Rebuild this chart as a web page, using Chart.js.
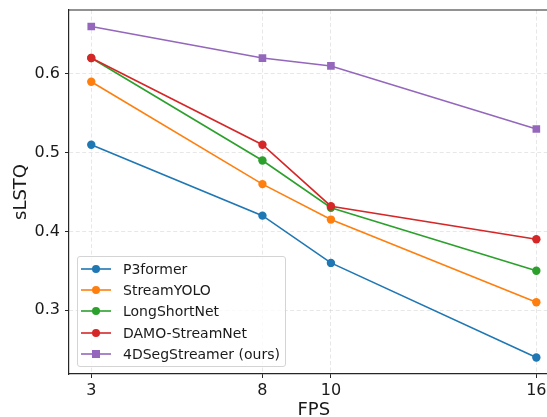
<!DOCTYPE html>
<html>
<head>
<meta charset="utf-8">
<script src="https://cdn.jsdelivr.net/npm/chart.js@4"></script>
<style>
  html, body { margin: 0; padding: 0; background: #fff; overflow: hidden; width: 547px; height: 417px; }
  #wrap { position: relative; width: 547px; height: 417px; overflow: hidden; }
  #c { position: absolute; left: 0; top: 0; }
  #legend {
    position: absolute; left: 77px; top: 256px; width: 207px; height: 109px;
    border: 1px solid #d4d4d4; border-radius: 3px; background: rgba(255,255,255,0.8);
    font-family: 'DejaVu Sans', sans-serif; font-size: 14px; color: #1a1a1a;
  }
  .row { position: absolute; left: 0; height: 20px; width: 100%; }
  .row svg { position: absolute; left: 3px; top: 5px; }
  .row span { position: absolute; left: 45px; top: 1px; line-height: 18px; white-space: nowrap; }
</style>
</head>
<body>
<div id="wrap">
  <canvas id="c" width="564" height="417" style="width:564px;height:417px"></canvas>
  <div id="legend"></div>
</div>
<script>
const fps = [3, 8, 10, 16];
const xTicks = [3, 8, 10, 16];
const yTicks = [0.3, 0.4, 0.5, 0.6];
const seriesNames = ['P3former', 'StreamYOLO', 'LongShortNet', 'DAMO-StreamNet', '4DSegStreamer (ours)'];
const p3former = [0.51, 0.42, 0.36, 0.24];
const streamYOLO = [0.59, 0.46, 0.415, 0.31];
const longShortNet = [0.62, 0.49, 0.43, 0.35];
const damoStreamNet = [0.62, 0.51, 0.432, 0.39];
const segStreamer = [0.66, 0.62, 0.61, 0.53];

const seriesValues = [p3former, streamYOLO, longShortNet, damoStreamNet, segStreamer];
const colors = ['#1f77b4', '#ff7f0e', '#2ca02c', '#d62728', '#9467bd'];
const markers = ['circle', 'circle', 'circle', 'circle', 'rect'];

const datasets = seriesNames.map((name, i) => ({
  label: name,
  data: fps.map((x, j) => ({ x: x, y: seriesValues[i][j] })),
  borderColor: colors[i],
  backgroundColor: colors[i],
  borderWidth: 1.6,
  pointStyle: markers[i],
  pointRadius: markers[i] === 'rect' ? 5.4 : 4.2,
  pointBorderWidth: 0,
  pointHoverRadius: 5,
  tension: 0,
  fill: false,
  order: seriesNames.length - i
}));

const FONT = "'DejaVu Sans', sans-serif";
const spineColor = '#262626';

const framePlugin = {
  id: 'frame',
  afterDatasetsDraw(chart) {
    const a = chart.chartArea, ctx = chart.ctx;
    ctx.save();
    ctx.strokeStyle = spineColor;
    ctx.lineWidth = 1.2;
    ctx.beginPath();
    ctx.moveTo(a.left, a.top);
    ctx.lineTo(a.right, a.top);
    ctx.lineTo(a.right, a.bottom);
    ctx.stroke();
    ctx.restore();
  }
};

new Chart(document.getElementById('c'), {
  type: 'line',
  data: { datasets },
  options: {
    responsive: false,
    animation: false,
    devicePixelRatio: 1,
    layout: { padding: { top: 10, right: 0, left: 0, bottom: 0 } },
    plugins: { legend: { display: false }, tooltip: { enabled: false } },
    scales: {
      x: {
        type: 'linear',
        min: 2.35, max: 16.65,
        afterBuildTicks: s => { s.ticks = xTicks.map(v => ({ value: v })); },
        afterFit: s => { s.height = 43; s.paddingLeft = 0; s.paddingRight = 0; },
        ticks: { font: { family: FONT, size: 16 }, color: '#1a1a1a', padding: 3, maxRotation: 0, autoSkip: false },
        grid: { color: 'rgba(200,200,200,0.55)', lineWidth: 0.8, tickColor: spineColor, tickLength: 4, tickWidth: 1 },
        border: { color: spineColor, width: 1.2, dash: [4, 2.5] },
        title: { display: true, text: 'FPS', font: { family: FONT, size: 18, lineHeight: 0.72 }, color: '#1a1a1a', padding: 0 }
      },
      y: {
        type: 'linear',
        min: 0.219, max: 0.681,
        afterBuildTicks: s => { s.ticks = yTicks.map(v => ({ value: v })); },
        afterFit: s => { s.width = 69; s.paddingTop = 0; s.paddingBottom = 0; },
        ticks: { font: { family: FONT, size: 16 }, color: '#1a1a1a', padding: 5, callback: v => v.toFixed(1) },
        grid: { color: 'rgba(200,200,200,0.55)', lineWidth: 0.8, tickColor: spineColor, tickLength: 4, tickWidth: 1 },
        border: { color: spineColor, width: 1.2, dash: [4, 2.5] },
        title: { display: true, text: 'sLSTQ', font: { family: FONT, size: 18, lineHeight: 1.2 }, color: '#1a1a1a', padding: { top: 11, bottom: 0 } }
      }
    }
  },
  plugins: [framePlugin]
});

// HTML legend built from the series
const legend = document.getElementById('legend');
seriesNames.forEach((name, i) => {
  const row = document.createElement('div');
  row.className = 'row';
  row.style.top = (2 + i * 21.2) + 'px';
  const m = markers[i] === 'rect'
    ? `<rect x="11" y="1" width="8" height="8" fill="${colors[i]}"/>`
    : `<circle cx="15" cy="5" r="4" fill="${colors[i]}"/>`;
  row.innerHTML = `<svg width="30" height="10"><line x1="0" y1="5" x2="30" y2="5" stroke="${colors[i]}" stroke-width="1.6"/>${m}</svg><span>${name}</span>`;
  legend.appendChild(row);
});
</script>
</body>
</html>
